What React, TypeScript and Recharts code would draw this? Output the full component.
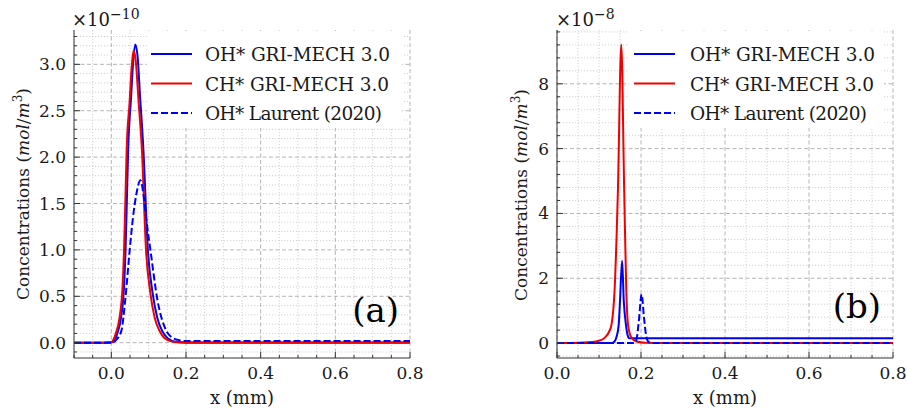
import React from 'react';
import { LineChart, Line, XAxis, YAxis, CartesianGrid } from 'recharts';

interface Pt {
  x: number;
  y: number;
}

// panel (a) -- concentrations in 1e-10 mol/m3
const OH_GRI_A: Pt[] = [
  { x: -0.1, y: 0 }, { x: -0.02, y: 0 }, { x: 0.002, y: 0.005 }, { x: 0.008, y: 0.02 },
  { x: 0.016, y: 0.1 }, { x: 0.026, y: 0.27 }, { x: 0.034, y: 0.6 }, { x: 0.038, y: 0.99 },
  { x: 0.042, y: 1.6 }, { x: 0.045, y: 2.07 }, { x: 0.053, y: 2.65 }, { x: 0.058, y: 3.0 },
  { x: 0.064, y: 3.215 }, { x: 0.07, y: 3.1 }, { x: 0.077, y: 2.65 }, { x: 0.086, y: 2.07 },
  { x: 0.098, y: 0.99 }, { x: 0.11, y: 0.55 }, { x: 0.123, y: 0.27 }, { x: 0.137, y: 0.12 },
  { x: 0.15, y: 0.05 }, { x: 0.172, y: 0.01 }, { x: 0.2, y: 0.003 }, { x: 0.8, y: 0.003 },
];
const CH_GRI_A: Pt[] = [
  { x: -0.1, y: 0 }, { x: -0.02, y: 0 }, { x: 0.0, y: 0.005 }, { x: 0.004, y: 0.02 },
  { x: 0.012, y: 0.1 }, { x: 0.022, y: 0.27 }, { x: 0.03, y: 0.6 }, { x: 0.034, y: 0.99 },
  { x: 0.038, y: 1.6 }, { x: 0.041, y: 2.07 }, { x: 0.049, y: 2.6 }, { x: 0.054, y: 2.95 },
  { x: 0.0595, y: 3.15 }, { x: 0.065, y: 3.05 }, { x: 0.073, y: 2.6 }, { x: 0.082, y: 2.07 },
  { x: 0.093, y: 0.99 }, { x: 0.104, y: 0.55 }, { x: 0.116, y: 0.27 }, { x: 0.13, y: 0.12 },
  { x: 0.142, y: 0.05 }, { x: 0.164, y: 0.01 }, { x: 0.2, y: 0 }, { x: 0.8, y: 0 },
];
const OH_LAURENT_A: Pt[] = [
  { x: -0.1, y: 0 }, { x: 0.0, y: 0 }, { x: 0.013, y: 0.03 }, { x: 0.027, y: 0.13 },
  { x: 0.037, y: 0.45 }, { x: 0.049, y: 0.99 }, { x: 0.058, y: 1.35 }, { x: 0.067, y: 1.6 },
  { x: 0.078, y: 1.75 }, { x: 0.086, y: 1.6 }, { x: 0.093, y: 1.35 }, { x: 0.105, y: 0.99 },
  { x: 0.124, y: 0.45 }, { x: 0.147, y: 0.13 }, { x: 0.165, y: 0.05 }, { x: 0.178, y: 0.03 },
  { x: 0.2, y: 0.018 }, { x: 0.8, y: 0.018 },
];

// panel (b) -- concentrations in 1e-8 mol/m3
const OH_GRI_B: Pt[] = [
  { x: 0, y: 0 }, { x: 0.13, y: 0 }, { x: 0.137, y: 0.05 }, { x: 0.142, y: 0.2 },
  { x: 0.147, y: 0.58 }, { x: 0.15, y: 1.3 }, { x: 0.155, y: 2.54 }, { x: 0.159, y: 1.3 },
  { x: 0.164, y: 0.58 }, { x: 0.168, y: 0.25 }, { x: 0.172, y: 0.15 }, { x: 0.8, y: 0.15 },
];
const CH_GRI_B: Pt[] = [
  { x: 0, y: 0 }, { x: 0.05, y: 0.01 }, { x: 0.08, y: 0.03 }, { x: 0.1, y: 0.07 },
  { x: 0.114, y: 0.17 }, { x: 0.124, y: 0.35 }, { x: 0.13, y: 0.585 }, { x: 0.137, y: 1.61 },
  { x: 0.145, y: 4.69 }, { x: 0.153, y: 9.21 }, { x: 0.16, y: 4.69 }, { x: 0.165, y: 1.61 },
  { x: 0.169, y: 0.585 }, { x: 0.177, y: 0.17 }, { x: 0.19, y: 0.05 }, { x: 0.21, y: 0.01 },
  { x: 0.25, y: 0 }, { x: 0.8, y: 0 },
];
const OH_LAURENT_B: Pt[] = [
  { x: 0, y: 0 }, { x: 0.183, y: 0 }, { x: 0.189, y: 0.1 }, { x: 0.195, y: 0.7 },
  { x: 0.2015, y: 1.51 }, { x: 0.207, y: 0.8 }, { x: 0.212, y: 0.25 }, { x: 0.217, y: 0.05 },
  { x: 0.225, y: 0 }, { x: 0.8, y: 0 },
];

// ticks
const X_MAJOR = [0, 0.2, 0.4, 0.6, 0.8];
const X_MINOR_A = [-0.1, -0.05, 0.05, 0.1, 0.15, 0.25, 0.3, 0.35, 0.45, 0.5, 0.55, 0.65, 0.7, 0.75];
const X_MINOR_B = [0.05, 0.1, 0.15, 0.25, 0.3, 0.35, 0.45, 0.5, 0.55, 0.65, 0.7, 0.75];
const Y_MAJOR_A = [0, 0.5, 1, 1.5, 2, 2.5, 3];
const Y_MINOR_A = [
  -0.1, 0.1, 0.2, 0.3, 0.4, 0.6, 0.7, 0.8, 0.9, 1.1, 1.2, 1.3, 1.4, 1.6, 1.7, 1.8, 1.9,
  2.1, 2.2, 2.3, 2.4, 2.6, 2.7, 2.8, 2.9, 3.1, 3.2, 3.3,
];
const Y_MAJOR_B = [0, 2, 4, 6, 8];
const Y_MINOR_B = [
  -0.4, 0.4, 0.8, 1.2, 1.6, 2.4, 2.8, 3.2, 3.6, 4.4, 4.8, 5.2, 5.6, 6.4, 6.8, 7.2, 7.6,
  8.4, 8.8, 9.2, 9.6,
];

const SERIES_NAMES = ['OH* GRI-MECH 3.0', 'CH* GRI-MECH 3.0', 'OH* Laurent (2020)'];

const BLUE = '#0000f0';
const RED = '#f00000';
const FONT = 'DejaVu Serif';
const FS = 17;
const TXT = '#1a1a1a';

const isIn = (arr: number[], v: number) => arr.some((m) => Math.abs(m - v) < 1e-9);
const sorted = (a: number[], b: number[]) => [...a, ...b].sort((p, q) => p - q);

// map a value through the axis scale handed to the grid generators;
// falls back to a linear mapping over the plot box if the scale shape differs
const toPixel = (axis: any, v: number, domain: [number, number], start: number, size: number, flip: boolean) => {
  const s = axis?.scale;
  let p: any;
  try {
    if (typeof s === 'function') p = s(v);
    else if (s && typeof s.map === 'function') p = s.map(v);
  } catch (e) {
    p = undefined;
  }
  if (typeof p === 'number' && isFinite(p)) return p;
  const t = (v - domain[0]) / (domain[1] - domain[0]);
  return flip ? start + size * (1 - t) : start + size * t;
};

const makeTick =
  (side: 'bottom' | 'top' | 'left' | 'right', majors: number[], fmt: (v: number) => string) =>
  (props: any) => {
    const { x, y, payload } = props;
    const v = payload.value as number;
    const major = isIn(majors, v);
    const len = major ? 6 : 3;
    if (side === 'bottom') {
      return (
        <g>
          <line x1={x} y1={y} x2={x} y2={y - len} stroke="#333" strokeWidth={1} />
          {major && (
            <text x={x} y={y + 21} textAnchor="middle" fontSize={FS} fontFamily={FONT} fill={TXT}>
              {fmt(v)}
            </text>
          )}
        </g>
      );
    }
    if (side === 'top') return <line x1={x} y1={y} x2={x} y2={y + len} stroke="#333" strokeWidth={1} />;
    if (side === 'right') return <line x1={x} y1={y} x2={x - len} y2={y} stroke="#333" strokeWidth={1} />;
    return (
      <g>
        <line x1={x} y1={y} x2={x + len} y2={y} stroke="#333" strokeWidth={1} />
        {major && (
          <text x={x - 8} y={y + 6} textAnchor="end" fontSize={FS} fontFamily={FONT} fill={TXT}>
            {fmt(v)}
          </text>
        )}
      </g>
    );
  };

interface PanelProps {
  width: number;
  marginLeft: number;
  marginRight: number;
  xDomain: [number, number];
  yDomain: [number, number];
  xMinor: number[];
  yMajor: number[];
  yMinor: number[];
  yFmt: (v: number) => string;
  ohGri: Pt[];
  chGri: Pt[];
  ohLaurent: Pt[];
}

const Panel = ({
  width, marginLeft, marginRight, xDomain, yDomain, xMinor, yMajor, yMinor, yFmt, ohGri, chGri, ohLaurent,
}: PanelProps) => {
  const xTicks = sorted(X_MAJOR, xMinor);
  const yTicks = sorted(yMajor, yMinor);
  const xFmt = (v: number) => v.toFixed(1);
  const vGen = (vals: number[]) => ({ xAxis, offset }: any) =>
    vals.map((v) => toPixel(xAxis, v, xDomain, offset.left, offset.width, false));
  const hGen = (vals: number[]) => ({ yAxis, offset }: any) =>
    vals.map((v) => toPixel(yAxis, v, yDomain, offset.top, offset.height, true));
  const axisLine = { stroke: '#333', strokeWidth: 1 };

  return (
    <LineChart width={width} height={416} margin={{ top: 30, right: marginRight, bottom: 18, left: marginLeft }}>
      <CartesianGrid
        xAxisId="b"
        yAxisId="l"
        stroke="#c8c8c8"
        strokeWidth={0.8}
        strokeDasharray="1.2 1.8"
        verticalCoordinatesGenerator={vGen(xMinor)}
        horizontalCoordinatesGenerator={hGen(yMinor)}
      />
      <CartesianGrid
        xAxisId="b"
        yAxisId="l"
        stroke="#adadad"
        strokeWidth={0.9}
        strokeDasharray="4 2.5"
        verticalCoordinatesGenerator={vGen(X_MAJOR)}
        horizontalCoordinatesGenerator={hGen(yMajor)}
      />
      <XAxis
        xAxisId="b"
        orientation="bottom"
        type="number"
        dataKey="x"
        domain={xDomain}
        ticks={xTicks}
        interval={0}
        allowDataOverflow
        tickSize={0}
        tickMargin={0}
        tickLine={false}
        axisLine={axisLine}
        height={40}
        tick={makeTick('bottom', X_MAJOR, xFmt)}
      />
      <XAxis
        xAxisId="t"
        orientation="top"
        type="number"
        domain={xDomain}
        ticks={xTicks}
        interval={0}
        allowDataOverflow
        tickSize={0}
        tickMargin={0}
        tickLine={false}
        axisLine={axisLine}
        height={0}
        tick={makeTick('top', X_MAJOR, xFmt)}
      />
      <YAxis
        yAxisId="l"
        orientation="left"
        type="number"
        domain={yDomain}
        ticks={yTicks}
        interval={0}
        allowDataOverflow
        tickSize={0}
        tickMargin={0}
        tickLine={false}
        axisLine={axisLine}
        width={60}
        tick={makeTick('left', yMajor, yFmt)}
      />
      <YAxis
        yAxisId="r"
        orientation="right"
        type="number"
        domain={yDomain}
        ticks={yTicks}
        interval={0}
        allowDataOverflow
        tickSize={0}
        tickMargin={0}
        tickLine={false}
        axisLine={axisLine}
        width={0}
        tick={makeTick('right', yMajor, yFmt)}
      />
      <Line xAxisId="b" yAxisId="l" data={ohGri} dataKey="y" type="monotone" stroke={BLUE} strokeWidth={2} dot={false} isAnimationActive={false} />
      <Line xAxisId="b" yAxisId="l" data={chGri} dataKey="y" type="monotone" stroke={RED} strokeWidth={2} dot={false} isAnimationActive={false} />
      <Line xAxisId="b" yAxisId="l" data={ohLaurent} dataKey="y" type="monotone" stroke={BLUE} strokeWidth={2} strokeDasharray="7 3" dot={false} isAnimationActive={false} />
    </LineChart>
  );
};

const LegendBox = ({ x0, lineX, textX }: { x0: number; lineX: number; textX: number }) => {
  const rows = [54, 83.5, 113];
  const widths = [185, 184, 177];
  const styles = [
    { stroke: BLUE, dash: undefined },
    { stroke: RED, dash: undefined },
    { stroke: BLUE, dash: '7 3' },
  ];
  return (
    <g>
      <rect x={x0} y={31} width={255} height={97} fill="#fff" />
      {SERIES_NAMES.map((name, i) => (
        <g key={name}>
          <line x1={lineX} x2={lineX + 41} y1={rows[i]} y2={rows[i]} stroke={styles[i].stroke} strokeWidth={2} strokeDasharray={styles[i].dash} />
          <text
            x={textX}
            y={rows[i] + 7}
            fontSize={18.5}
            fontFamily={FONT}
            fill={TXT}
            textLength={widths[i]}
            lengthAdjust="spacing"
          >
            {name}
          </text>
        </g>
      ))}
    </g>
  );
};

const YLabel = ({ x, y }: { x: number; y: number }) => (
  <text x={x} y={y} transform={`rotate(-90, ${x}, ${y})`} textAnchor="middle" fontSize={FS} fontFamily={FONT} fill={TXT}>
    Concentrations (<tspan fontStyle="italic">mol</tspan>/<tspan fontStyle="italic">m</tspan>
    <tspan dy={-7} fontSize={12}>3</tspan>
    <tspan dy={7}>)</tspan>
  </text>
);

const Multiplier = ({ x, exp }: { x: number; exp: string }) => (
  <text x={x} y={26} fontSize={18} fontFamily={FONT} fill={TXT}>
    ×10<tspan dy={-7} fontSize={14}>{exp}</tspan>
  </text>
);

export default function App() {
  return (
    <div style={{ position: 'absolute', left: 0, top: 0, width: 907, height: 416, background: '#fff' }}>
      <div style={{ position: 'absolute', left: 0, top: 0 }}>
        <Panel
          width={450}
          marginLeft={14}
          marginRight={40}
          xDomain={[-0.1, 0.8]}
          yDomain={[-0.165, 3.37]}
          xMinor={X_MINOR_A}
          yMajor={Y_MAJOR_A}
          yMinor={Y_MINOR_A}
          yFmt={(v) => v.toFixed(1)}
          ohGri={OH_GRI_A}
          chGri={CH_GRI_A}
          ohLaurent={OH_LAURENT_A}
        />
      </div>
      <div style={{ position: 'absolute', left: 455, top: 0 }}>
        <Panel
          width={452}
          marginLeft={42}
          marginRight={14}
          xDomain={[0, 0.8]}
          yDomain={[-0.46, 9.66]}
          xMinor={X_MINOR_B}
          yMajor={Y_MAJOR_B}
          yMinor={Y_MINOR_B}
          yFmt={(v) => v.toFixed(0)}
          ohGri={OH_GRI_B}
          chGri={CH_GRI_B}
          ohLaurent={OH_LAURENT_B}
        />
      </div>
      <svg width={907} height={416} style={{ position: 'absolute', left: 0, top: 0, pointerEvents: 'none' }}>
        <LegendBox x0={147} lineX={151} textX={205} />
        <LegendBox x0={629} lineX={634} textX={690} />
        <YLabel x={29} y={194} />
        <YLabel x={527} y={195} />
        <text x={242} y={404} textAnchor="middle" fontSize={18} fontFamily={FONT} fill={TXT}>x (mm)</text>
        <text x={725} y={404} textAnchor="middle" fontSize={18} fontFamily={FONT} fill={TXT}>x (mm)</text>
        <Multiplier x={72} exp="−10" />
        <Multiplier x={556} exp="−8" />
        <text x={399} y={322} textAnchor="end" fontSize={34} fontFamily={FONT} fill="#000">(a)</text>
        <text x={881} y={318} textAnchor="end" fontSize={34} fontFamily={FONT} fill="#000">(b)</text>
      </svg>
    </div>
  );
}
